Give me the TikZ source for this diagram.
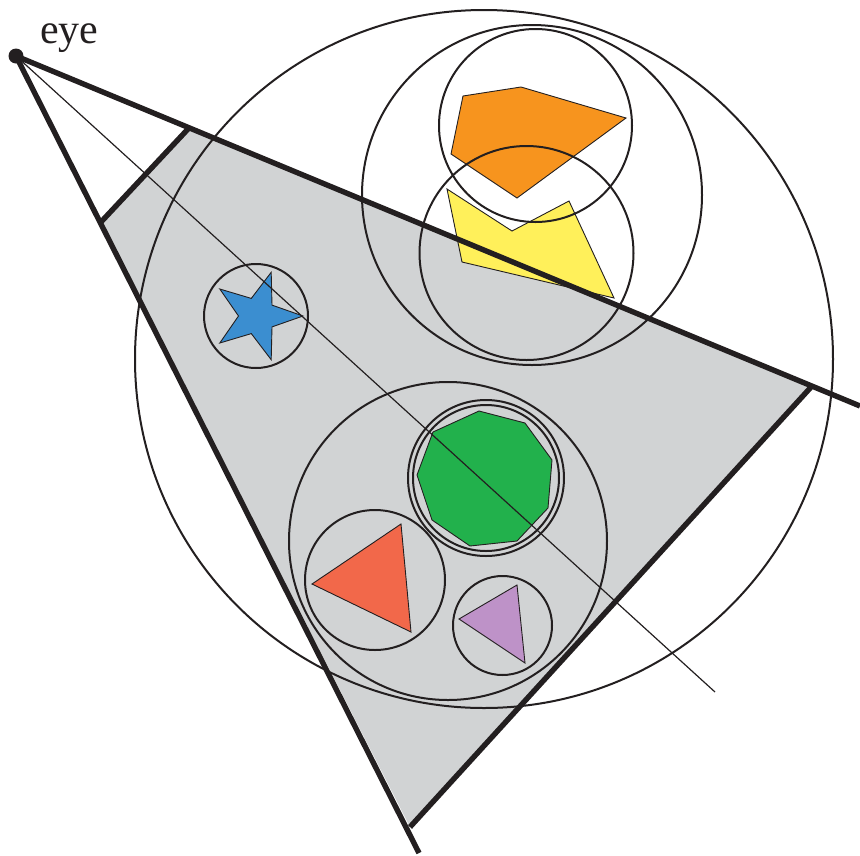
\documentclass[tikz,border=0pt]{standalone}
\usepackage{fontspec}
\setmainfont{Liberation Serif}
\definecolor{fgray}{RGB}{209,211,212}
\definecolor{corange}{RGB}{247,148,30}
\definecolor{cyellow}{RGB}{255,240,90}
\definecolor{cblue}{RGB}{59,142,208}
\definecolor{cgreen}{RGB}{34,177,76}
\definecolor{cred}{RGB}{242,104,74}
\definecolor{cpurple}{RGB}{190,146,200}
\definecolor{ink}{RGB}{35,31,32}
\begin{document}
\begin{tikzpicture}[x=1pt,y=-1pt,
  frust/.style={draw=ink,line width=5.4pt,line cap=butt},
  bound/.style={draw=ink,line width=2pt},
  objshape/.style={draw=ink,line width=0.9pt,line join=miter},
  axis/.style={draw=ink,line width=1.2pt}]
\useasboundingbox (0,0) rectangle (860,855);
% coordinates
\coordinate (eye) at (16,56);
\coordinate (topend) at (860,406);
\coordinate (botend) at (419,853);
\coordinate (n1) at (188,129);
\coordinate (n2) at (101,222);
\coordinate (f1) at (812,386);
\coordinate (f2) at (410,827);
\coordinate (axend) at (715,692);
% gray view volume
\fill[fgray] (n1) -- (f1) -- (f2) -- (n2) -- cycle;
% filled objects
\filldraw[objshape,fill=corange] (463,96) -- (521,87) -- (626,118) -- (517,198) -- (451,154) -- cycle;
\filldraw[objshape,fill=cyellow] (447,189) -- (512,231) -- (569,201) -- (614,298) -- (462,262) -- cycle;
\filldraw[objshape,fill=cblue] (303,316) -- (272,305.1) -- (271.2,272.3) -- (251.3,298.4) -- (219.8,289) -- (238.5,316) -- (219.8,343) -- (251.3,333.6) -- (271.2,359.7) -- (272,326.9) -- cycle;
\filldraw[objshape,fill=cgreen] (479,411) -- (525,423) -- (552,460) -- (548,508) -- (517,541) -- (470,546) -- (432,520) -- (417,475) -- (433,432) -- cycle;
\filldraw[objshape,fill=cred] (401,524) -- (312,584) -- (411,632) -- cycle;
\filldraw[objshape,fill=cpurple] (517,585) -- (459,619) -- (525,663) -- cycle;
% bounding circles
\draw[bound] (484,359) circle[radius=349pt];
\draw[bound] (532,195) circle[radius=170pt];
\draw[bound] (535.5,125.5) circle[radius=96.5pt];
\draw[bound] (526.5,253) circle[radius=107pt];
\draw[bound] (256,316) circle[radius=52pt];
\draw[bound] (448,541) circle[radius=159pt];
\draw[bound] (486,478) circle[radius=78pt];
\draw[bound] (486,478) circle[radius=73pt];
\draw[bound] (375,580) circle[radius=70pt];
\draw[bound] (502.5,625.5) circle[radius=49.5pt];
% axis
\draw[axis] (eye) -- (axend);
% frustum
\draw[frust] (eye) -- (topend);
\draw[frust] (eye) -- (botend);
\draw[frust] (n1) -- (n2);
\draw[frust] (f1) -- (f2);
\fill[ink] (eye) circle[radius=7.5pt];
\node[anchor=base west,inner sep=0pt,font=\fontsize{42}{44}\selectfont,text=ink] (eyelabel) at (40,43) {eye};
\end{tikzpicture}
\end{document}
